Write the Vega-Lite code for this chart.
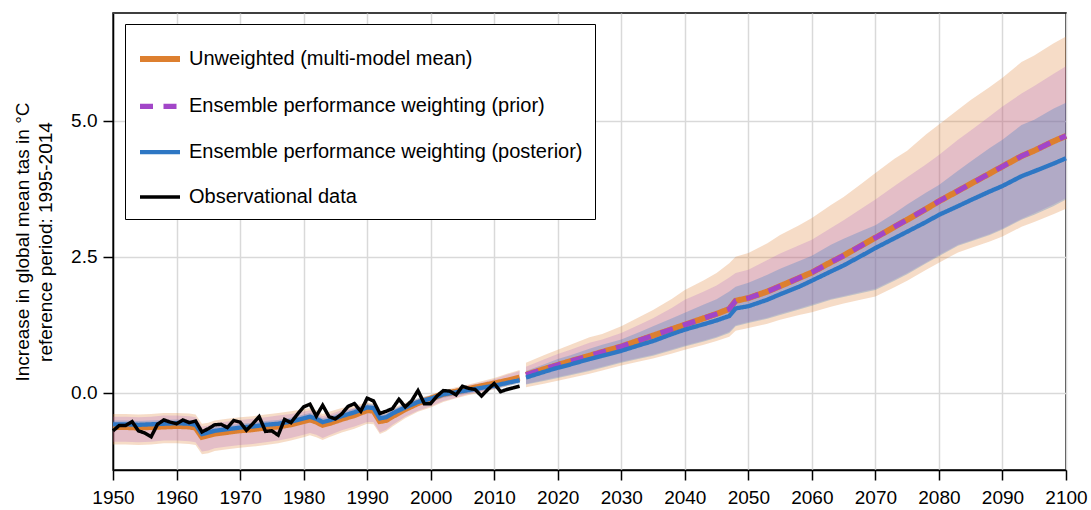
{
  "$schema": "https://vega.github.io/schema/vega-lite/v6.json",
  "width": 953,
  "height": 457,
  "autosize": "none",
  "padding": {"left": 113, "top": 13, "right": 25, "bottom": 40},
  "background": "white",
  "config": {
    "font": "Liberation Sans",
    "view": {"stroke": "black", "strokeWidth": 1.5},
    "axis": {
      "labelFont": "Liberation Sans", "labelFontSize": 19, "labelColor": "black",
      "titleFont": "Liberation Sans", "titleFontSize": 19, "titleFontWeight": "normal", "titleColor": "black",
      "domainColor": "black", "domainWidth": 1.5, "tickColor": "black", "tickWidth": 1.5, "tickSize": 10,
      "gridColor": "#d9d9d9", "gridWidth": 1.5
    },
    "legend": {
      "padding": 12, "strokeColor": "black", "fillColor": "white",
      "symbolType": "stroke", "symbolSize": 1600,
      "labelFont": "Liberation Sans", "labelFontSize": 20, "labelColor": "black",
      "labelOffset": 6, "rowPadding": 12.3, "labelLimit": 0
    }
  },
  "datasets": {
    "ens": [
      {"yr":1950,"seg":"h","u":-0.63,"w":-0.58,"uhi":-0.39,"ulo":-0.95,"phi":-0.44,"plo":-0.90,"whi":-0.51,"wlo":-0.65},
      {"yr":1952,"seg":"h","u":-0.63,"w":-0.58,"uhi":-0.39,"ulo":-0.95,"phi":-0.44,"plo":-0.90,"whi":-0.51,"wlo":-0.65},
      {"yr":1954,"seg":"h","u":-0.64,"w":-0.59,"uhi":-0.40,"ulo":-0.96,"phi":-0.45,"plo":-0.91,"whi":-0.52,"wlo":-0.66},
      {"yr":1956,"seg":"h","u":-0.63,"w":-0.58,"uhi":-0.39,"ulo":-0.95,"phi":-0.44,"plo":-0.90,"whi":-0.51,"wlo":-0.65},
      {"yr":1958,"seg":"h","u":-0.62,"w":-0.57,"uhi":-0.37,"ulo":-0.93,"phi":-0.42,"plo":-0.88,"whi":-0.50,"wlo":-0.64},
      {"yr":1960,"seg":"h","u":-0.61,"w":-0.56,"uhi":-0.37,"ulo":-0.93,"phi":-0.42,"plo":-0.88,"whi":-0.49,"wlo":-0.63},
      {"yr":1962,"seg":"h","u":-0.62,"w":-0.57,"uhi":-0.38,"ulo":-0.94,"phi":-0.43,"plo":-0.89,"whi":-0.50,"wlo":-0.64},
      {"yr":1963,"seg":"h","u":-0.64,"w":-0.59,"uhi":-0.40,"ulo":-0.96,"phi":-0.45,"plo":-0.91,"whi":-0.52,"wlo":-0.66},
      {"yr":1964,"seg":"h","u":-0.81,"w":-0.76,"uhi":-0.57,"ulo":-1.13,"phi":-0.62,"plo":-1.08,"whi":-0.69,"wlo":-0.83},
      {"yr":1965,"seg":"h","u":-0.78,"w":-0.73,"uhi":-0.55,"ulo":-1.11,"phi":-0.60,"plo":-1.06,"whi":-0.66,"wlo":-0.80},
      {"yr":1966,"seg":"h","u":-0.75,"w":-0.70,"uhi":-0.51,"ulo":-1.07,"phi":-0.56,"plo":-1.02,"whi":-0.63,"wlo":-0.77},
      {"yr":1968,"seg":"h","u":-0.72,"w":-0.67,"uhi":-0.48,"ulo":-1.04,"phi":-0.53,"plo":-0.99,"whi":-0.60,"wlo":-0.74},
      {"yr":1970,"seg":"h","u":-0.69,"w":-0.64,"uhi":-0.45,"ulo":-1.01,"phi":-0.50,"plo":-0.96,"whi":-0.57,"wlo":-0.71},
      {"yr":1972,"seg":"h","u":-0.67,"w":-0.62,"uhi":-0.43,"ulo":-0.99,"phi":-0.48,"plo":-0.94,"whi":-0.55,"wlo":-0.69},
      {"yr":1974,"seg":"h","u":-0.64,"w":-0.59,"uhi":-0.40,"ulo":-0.96,"phi":-0.45,"plo":-0.91,"whi":-0.52,"wlo":-0.66},
      {"yr":1976,"seg":"h","u":-0.62,"w":-0.57,"uhi":-0.37,"ulo":-0.93,"phi":-0.42,"plo":-0.88,"whi":-0.50,"wlo":-0.64},
      {"yr":1978,"seg":"h","u":-0.58,"w":-0.53,"uhi":-0.34,"ulo":-0.88,"phi":-0.39,"plo":-0.83,"whi":-0.46,"wlo":-0.60},
      {"yr":1980,"seg":"h","u":-0.52,"w":-0.47,"uhi":-0.30,"ulo":-0.82,"phi":-0.35,"plo":-0.77,"whi":-0.40,"wlo":-0.54},
      {"yr":1981,"seg":"h","u":-0.49,"w":-0.44,"uhi":-0.28,"ulo":-0.78,"phi":-0.32,"plo":-0.74,"whi":-0.37,"wlo":-0.51},
      {"yr":1982,"seg":"h","u":-0.53,"w":-0.48,"uhi":-0.32,"ulo":-0.82,"phi":-0.37,"plo":-0.77,"whi":-0.41,"wlo":-0.55},
      {"yr":1983,"seg":"h","u":-0.59,"w":-0.54,"uhi":-0.39,"ulo":-0.87,"phi":-0.43,"plo":-0.83,"whi":-0.47,"wlo":-0.61},
      {"yr":1984,"seg":"h","u":-0.56,"w":-0.51,"uhi":-0.35,"ulo":-0.82,"phi":-0.40,"plo":-0.78,"whi":-0.44,"wlo":-0.58},
      {"yr":1986,"seg":"h","u":-0.48,"w":-0.43,"uhi":-0.28,"ulo":-0.73,"phi":-0.32,"plo":-0.69,"whi":-0.36,"wlo":-0.50},
      {"yr":1988,"seg":"h","u":-0.41,"w":-0.36,"uhi":-0.24,"ulo":-0.66,"phi":-0.28,"plo":-0.62,"whi":-0.29,"wlo":-0.43},
      {"yr":1990,"seg":"h","u":-0.32,"w":-0.27,"uhi":-0.18,"ulo":-0.57,"phi":-0.22,"plo":-0.54,"whi":-0.20,"wlo":-0.34},
      {"yr":1991,"seg":"h","u":-0.33,"w":-0.28,"uhi":-0.20,"ulo":-0.58,"phi":-0.23,"plo":-0.54,"whi":-0.21,"wlo":-0.35},
      {"yr":1992,"seg":"h","u":-0.52,"w":-0.47,"uhi":-0.39,"ulo":-0.76,"phi":-0.42,"plo":-0.73,"whi":-0.40,"wlo":-0.54},
      {"yr":1993,"seg":"h","u":-0.50,"w":-0.45,"uhi":-0.36,"ulo":-0.71,"phi":-0.39,"plo":-0.68,"whi":-0.38,"wlo":-0.52},
      {"yr":1994,"seg":"h","u":-0.43,"w":-0.38,"uhi":-0.29,"ulo":-0.62,"phi":-0.32,"plo":-0.59,"whi":-0.31,"wlo":-0.45},
      {"yr":1996,"seg":"h","u":-0.30,"w":-0.27,"uhi":-0.18,"ulo":-0.47,"phi":-0.21,"plo":-0.44,"whi":-0.20,"wlo":-0.34},
      {"yr":1998,"seg":"h","u":-0.19,"w":-0.17,"uhi":-0.10,"ulo":-0.35,"phi":-0.12,"plo":-0.33,"whi":-0.10,"wlo":-0.24},
      {"yr":2000,"seg":"h","u":-0.11,"w":-0.11,"uhi":-0.04,"ulo":-0.27,"phi":-0.06,"plo":-0.25,"whi":-0.05,"wlo":-0.17},
      {"yr":2002,"seg":"h","u":-0.02,"w":-0.03,"uhi":0.04,"ulo":-0.17,"phi":0.02,"plo":-0.15,"whi":0.03,"wlo":-0.09},
      {"yr":2004,"seg":"h","u":0.02,"w":0.01,"uhi":0.10,"ulo":-0.10,"phi":0.08,"plo":-0.09,"whi":0.07,"wlo":-0.05},
      {"yr":2006,"seg":"h","u":0.07,"w":0.05,"uhi":0.15,"ulo":-0.04,"phi":0.14,"plo":-0.02,"whi":0.11,"wlo":-0.01},
      {"yr":2008,"seg":"h","u":0.12,"w":0.09,"uhi":0.21,"ulo":0.01,"phi":0.19,"plo":0.02,"whi":0.15,"wlo":0.03},
      {"yr":2010,"seg":"h","u":0.17,"w":0.13,"uhi":0.27,"ulo":0.06,"phi":0.25,"plo":0.08,"whi":0.19,"wlo":0.07},
      {"yr":2012,"seg":"h","u":0.22,"w":0.18,"uhi":0.35,"ulo":0.12,"phi":0.33,"plo":0.14,"whi":0.24,"wlo":0.12},
      {"yr":2014,"seg":"h","u":0.28,"w":0.23,"uhi":0.42,"ulo":0.19,"phi":0.40,"plo":0.21,"whi":0.29,"wlo":0.17},
      {"yr":2015,"seg":"f","u":0.33,"p":0.33,"w":0.28,"uhi":0.55,"phi":0.48,"whi":0.40,"plo":0.16,"wlo":0.15,"ulo":0.10},
      {"yr":2018,"seg":"f","u":0.44,"p":0.44,"w":0.39,"uhi":0.70,"phi":0.62,"whi":0.53,"plo":0.24,"wlo":0.22,"ulo":0.17},
      {"yr":2020,"seg":"f","u":0.51,"p":0.51,"w":0.46,"uhi":0.79,"phi":0.71,"whi":0.62,"plo":0.29,"wlo":0.27,"ulo":0.22},
      {"yr":2022,"seg":"f","u":0.58,"p":0.58,"w":0.52,"uhi":0.88,"phi":0.79,"whi":0.69,"plo":0.34,"wlo":0.32,"ulo":0.27},
      {"yr":2025,"seg":"f","u":0.68,"p":0.68,"w":0.62,"uhi":1.02,"phi":0.92,"whi":0.81,"plo":0.42,"wlo":0.40,"ulo":0.35},
      {"yr":2027,"seg":"f","u":0.75,"p":0.75,"w":0.68,"uhi":1.08,"phi":0.98,"whi":0.88,"plo":0.48,"wlo":0.46,"ulo":0.41},
      {"yr":2030,"seg":"f","u":0.85,"p":0.85,"w":0.77,"uhi":1.22,"phi":1.10,"whi":0.98,"plo":0.57,"wlo":0.55,"ulo":0.50},
      {"yr":2033,"seg":"f","u":0.97,"p":0.97,"w":0.88,"uhi":1.40,"phi":1.26,"whi":1.12,"plo":0.65,"wlo":0.63,"ulo":0.58},
      {"yr":2035,"seg":"f","u":1.05,"p":1.05,"w":0.95,"uhi":1.52,"phi":1.37,"whi":1.22,"plo":0.70,"wlo":0.68,"ulo":0.63},
      {"yr":2038,"seg":"f","u":1.17,"p":1.17,"w":1.08,"uhi":1.73,"phi":1.56,"whi":1.37,"plo":0.80,"wlo":0.78,"ulo":0.72},
      {"yr":2040,"seg":"f","u":1.25,"p":1.25,"w":1.16,"uhi":1.89,"phi":1.71,"whi":1.47,"plo":0.87,"wlo":0.85,"ulo":0.79},
      {"yr":2043,"seg":"f","u":1.37,"p":1.37,"w":1.26,"uhi":2.07,"phi":1.86,"whi":1.62,"plo":0.96,"wlo":0.94,"ulo":0.88},
      {"yr":2045,"seg":"f","u":1.45,"p":1.45,"w":1.33,"uhi":2.20,"phi":1.97,"whi":1.72,"plo":1.03,"wlo":1.01,"ulo":0.95},
      {"yr":2047,"seg":"f","u":1.54,"p":1.54,"w":1.41,"uhi":2.38,"phi":2.12,"whi":1.86,"plo":1.12,"wlo":1.10,"ulo":1.03},
      {"yr":2048,"seg":"f","u":1.69,"p":1.69,"w":1.55,"uhi":2.50,"phi":2.20,"whi":1.95,"plo":1.24,"wlo":1.22,"ulo":1.14},
      {"yr":2050,"seg":"f","u":1.74,"p":1.74,"w":1.59,"uhi":2.57,"phi":2.26,"whi":2.02,"plo":1.30,"wlo":1.28,"ulo":1.19},
      {"yr":2053,"seg":"f","u":1.86,"p":1.86,"w":1.71,"uhi":2.75,"phi":2.44,"whi":2.17,"plo":1.38,"wlo":1.36,"ulo":1.27},
      {"yr":2055,"seg":"f","u":1.96,"p":1.96,"w":1.81,"uhi":2.90,"phi":2.56,"whi":2.28,"plo":1.45,"wlo":1.43,"ulo":1.34},
      {"yr":2058,"seg":"f","u":2.11,"p":2.11,"w":1.95,"uhi":3.08,"phi":2.71,"whi":2.42,"plo":1.55,"wlo":1.53,"ulo":1.43},
      {"yr":2060,"seg":"f","u":2.21,"p":2.21,"w":2.06,"uhi":3.21,"phi":2.81,"whi":2.52,"plo":1.62,"wlo":1.60,"ulo":1.48},
      {"yr":2063,"seg":"f","u":2.40,"p":2.40,"w":2.23,"uhi":3.45,"phi":3.03,"whi":2.72,"plo":1.73,"wlo":1.71,"ulo":1.58},
      {"yr":2065,"seg":"f","u":2.52,"p":2.52,"w":2.34,"uhi":3.60,"phi":3.17,"whi":2.83,"plo":1.78,"wlo":1.76,"ulo":1.64},
      {"yr":2068,"seg":"f","u":2.72,"p":2.72,"w":2.53,"uhi":3.86,"phi":3.40,"whi":2.98,"plo":1.86,"wlo":1.84,"ulo":1.72},
      {"yr":2070,"seg":"f","u":2.85,"p":2.85,"w":2.66,"uhi":4.04,"phi":3.55,"whi":3.08,"plo":1.91,"wlo":1.89,"ulo":1.77},
      {"yr":2073,"seg":"f","u":3.05,"p":3.05,"w":2.84,"uhi":4.30,"phi":3.80,"whi":3.30,"plo":2.08,"wlo":2.06,"ulo":1.94},
      {"yr":2075,"seg":"f","u":3.18,"p":3.18,"w":2.96,"uhi":4.45,"phi":3.96,"whi":3.46,"plo":2.20,"wlo":2.18,"ulo":2.06},
      {"yr":2078,"seg":"f","u":3.38,"p":3.38,"w":3.14,"uhi":4.75,"phi":4.20,"whi":3.68,"plo":2.40,"wlo":2.38,"ulo":2.26},
      {"yr":2080,"seg":"f","u":3.52,"p":3.52,"w":3.27,"uhi":4.93,"phi":4.37,"whi":3.82,"plo":2.53,"wlo":2.51,"ulo":2.39},
      {"yr":2083,"seg":"f","u":3.71,"p":3.71,"w":3.43,"uhi":5.20,"phi":4.65,"whi":4.08,"plo":2.72,"wlo":2.70,"ulo":2.58},
      {"yr":2085,"seg":"f","u":3.84,"p":3.84,"w":3.54,"uhi":5.38,"phi":4.82,"whi":4.25,"plo":2.80,"wlo":2.78,"ulo":2.66},
      {"yr":2088,"seg":"f","u":4.03,"p":4.03,"w":3.70,"uhi":5.62,"phi":5.08,"whi":4.50,"plo":2.92,"wlo":2.90,"ulo":2.78},
      {"yr":2090,"seg":"f","u":4.16,"p":4.16,"w":3.80,"uhi":5.79,"phi":5.26,"whi":4.65,"plo":3.02,"wlo":3.00,"ulo":2.87},
      {"yr":2093,"seg":"f","u":4.35,"p":4.35,"w":3.98,"uhi":6.08,"phi":5.50,"whi":4.92,"plo":3.20,"wlo":3.18,"ulo":3.05},
      {"yr":2095,"seg":"f","u":4.45,"p":4.45,"w":4.07,"uhi":6.20,"phi":5.64,"whi":5.02,"plo":3.30,"wlo":3.27,"ulo":3.14},
      {"yr":2098,"seg":"f","u":4.62,"p":4.62,"w":4.21,"uhi":6.42,"phi":5.86,"whi":5.22,"plo":3.46,"wlo":3.43,"ulo":3.28},
      {"yr":2100,"seg":"f","u":4.72,"p":4.72,"w":4.31,"uhi":6.55,"phi":6.00,"whi":5.33,"plo":3.58,"wlo":3.55,"ulo":3.38}
    ],
    "obs": [
      {"yr":1950,"obs":-0.70},{"yr":1951,"obs":-0.60},{"yr":1952,"obs":-0.60},{"yr":1953,"obs":-0.53},{"yr":1954,"obs":-0.70},
      {"yr":1955,"obs":-0.74},{"yr":1956,"obs":-0.81},{"yr":1957,"obs":-0.58},{"yr":1958,"obs":-0.50},{"yr":1959,"obs":-0.54},
      {"yr":1960,"obs":-0.57},{"yr":1961,"obs":-0.50},{"yr":1962,"obs":-0.55},{"yr":1963,"obs":-0.52},{"yr":1964,"obs":-0.72},
      {"yr":1965,"obs":-0.66},{"yr":1966,"obs":-0.59},{"yr":1967,"obs":-0.58},{"yr":1968,"obs":-0.64},{"yr":1969,"obs":-0.51},
      {"yr":1970,"obs":-0.54},{"yr":1971,"obs":-0.69},{"yr":1972,"obs":-0.57},{"yr":1973,"obs":-0.44},{"yr":1974,"obs":-0.71},
      {"yr":1975,"obs":-0.70},{"yr":1976,"obs":-0.78},{"yr":1977,"obs":-0.49},{"yr":1978,"obs":-0.55},{"yr":1979,"obs":-0.40},
      {"yr":1980,"obs":-0.26},{"yr":1981,"obs":-0.21},{"yr":1982,"obs":-0.43},{"yr":1983,"obs":-0.23},{"yr":1984,"obs":-0.44},
      {"yr":1985,"obs":-0.48},{"yr":1986,"obs":-0.39},{"yr":1987,"obs":-0.25},{"yr":1988,"obs":-0.20},{"yr":1989,"obs":-0.34},
      {"yr":1990,"obs":-0.10},{"yr":1991,"obs":-0.15},{"yr":1992,"obs":-0.38},{"yr":1993,"obs":-0.34},{"yr":1994,"obs":-0.29},
      {"yr":1995,"obs":-0.12},{"yr":1996,"obs":-0.26},{"yr":1997,"obs":-0.15},{"yr":1998,"obs":0.04},{"yr":1999,"obs":-0.20},
      {"yr":2000,"obs":-0.20},{"yr":2001,"obs":-0.06},{"yr":2002,"obs":0.04},{"yr":2003,"obs":0.03},{"yr":2004,"obs":-0.04},
      {"yr":2005,"obs":0.12},{"yr":2006,"obs":0.08},{"yr":2007,"obs":0.06},{"yr":2008,"obs":-0.06},{"yr":2009,"obs":0.06},
      {"yr":2010,"obs":0.17},{"yr":2011,"obs":0.02},{"yr":2012,"obs":0.06},{"yr":2013,"obs":0.09},{"yr":2014,"obs":0.12}
    ]
  },
  "encoding": {
    "x": {
      "field": "yr", "type": "quantitative",
      "scale": {"domain": [1950, 2100], "nice": false, "zero": false},
      "axis": {"title": null, "values": [1950,1960,1970,1980,1990,2000,2010,2020,2030,2040,2050,2060,2070,2080,2090,2100], "format": "d", "labelFlush": false, "labelOverlap": false, "labelPadding": 8}
    }
  },
  "layer": [
    {
      "data": {"name": "ens"},
      "mark": {"type": "area", "fill": "#dd7f2f", "fillOpacity": 0.27},
      "encoding": {
        "y": {"field": "ulo", "type": "quantitative",
              "scale": {"domain": [-1.42, 6.98], "nice": false, "zero": false},
              "axis": {"title": ["Increase in global mean tas in °C", "reference period: 1995-2014"], "values": [0, 2.5, 5], "format": ".1f", "labelPadding": 6, "titlePadding": 15, "titleLineHeight": 23}},
        "y2": {"field": "uhi"},
        "detail": {"field": "seg"}
      }
    },
    {
      "data": {"name": "ens"},
      "mark": {"type": "area", "fill": "#a246c8", "fillOpacity": 0.2},
      "encoding": {
        "y": {"field": "plo", "type": "quantitative"},
        "y2": {"field": "phi"},
        "detail": {"field": "seg"}
      }
    },
    {
      "data": {"name": "ens"},
      "mark": {"type": "area", "fill": "#2e77c4", "fillOpacity": 0.28},
      "encoding": {
        "y": {"field": "wlo", "type": "quantitative"},
        "y2": {"field": "whi"},
        "detail": {"field": "seg"}
      }
    },
    {
      "data": {"name": "ens"},
      "mark": {"type": "line"},
      "encoding": {
        "y": {"field": "u", "type": "quantitative"},
        "detail": {"field": "seg"},
        "color": {"datum": "Unweighted (multi-model mean)", "type": "nominal",
          "scale": {"domain": ["Unweighted (multi-model mean)", "Ensemble performance weighting (prior)", "Ensemble performance weighting (posterior)", "Observational data"], "range": ["#dd7f2f", "#a246c8", "#2e77c4", "#000000"]},
          "legend": {"orient": "none", "legendX": 12, "legendY": 11, "title": null}},
        "strokeDash": {"datum": "Unweighted (multi-model mean)", "type": "nominal",
          "scale": {"domain": ["Unweighted (multi-model mean)", "Ensemble performance weighting (prior)", "Ensemble performance weighting (posterior)", "Observational data"], "range": [[1, 0], [13, 10.5], [1, 0], [1, 0]]}},
        "strokeWidth": {"datum": "Unweighted (multi-model mean)", "type": "ordinal",
          "scale": {"domain": ["Unweighted (multi-model mean)", "Ensemble performance weighting (prior)", "Ensemble performance weighting (posterior)", "Observational data"], "range": [6, 3.5, 6, 2.7]}}
      }
    },
    {
      "data": {"name": "ens"},
      "mark": {"type": "line"},
      "encoding": {
        "y": {"field": "p", "type": "quantitative"},
        "detail": {"field": "seg"},
        "color": {"datum": "Ensemble performance weighting (prior)", "type": "nominal", "legend": {"orient": "none", "legendX": 12, "legendY": 11, "title": null}},
        "strokeDash": {"datum": "Ensemble performance weighting (prior)", "type": "nominal"},
        "strokeWidth": {"datum": "Ensemble performance weighting (prior)", "type": "ordinal"}
      }
    },
    {
      "data": {"name": "ens"},
      "mark": {"type": "line"},
      "encoding": {
        "y": {"field": "w", "type": "quantitative"},
        "detail": {"field": "seg"},
        "color": {"datum": "Ensemble performance weighting (posterior)", "type": "nominal", "legend": {"orient": "none", "legendX": 12, "legendY": 11, "title": null}},
        "strokeDash": {"datum": "Ensemble performance weighting (posterior)", "type": "nominal"},
        "strokeWidth": {"datum": "Ensemble performance weighting (posterior)", "type": "ordinal"}
      }
    },
    {
      "data": {"name": "obs"},
      "mark": {"type": "line"},
      "encoding": {
        "y": {"field": "obs", "type": "quantitative"},
        "color": {"datum": "Observational data", "type": "nominal", "legend": {"orient": "none", "legendX": 12, "legendY": 11, "title": null}},
        "strokeDash": {"datum": "Observational data", "type": "nominal"},
        "strokeWidth": {"datum": "Observational data", "type": "ordinal"}
      }
    }
  ]
}
